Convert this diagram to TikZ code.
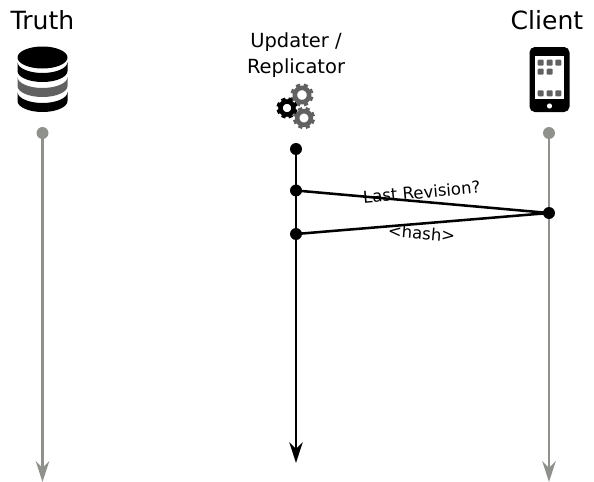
\documentclass[tikz,border=0pt]{standalone}
\usepackage{fontspec}
\setmainfont{DejaVu Sans}
\usetikzlibrary{arrows.meta}
\definecolor{lineGrey}{rgb}{0.56,0.57,0.55}
\definecolor{iconGrey}{rgb}{0.38,0.38,0.38}
\tikzset{
    dot/.style={circle,fill=#1,inner sep=0pt,minimum size=9pt},
    lifeline/.style={line width=#1,-{Stealth[length=15.5pt,width=10pt,inset=5pt]}},
    message/.style={line width=1.9pt,black},
    heading/.style={font=\fontsize{18.8}{22}\selectfont,inner sep=0pt},
    msglabel/.style={font=\fontsize{12.4}{15}\selectfont,inner sep=1.5pt},
}
\newcommand{\gearicon}[4]{%
    \draw [#4,line width=3.4pt] (#1,#2) circle [radius=#3*0.62];
    \foreach \a in {0,45,...,315} {
        \draw [#4,line width=3.2pt] (#1,#2) ++(\a+22:#3*0.7) -- ++(\a+22:#3*0.3);
    }
}
\newcommand{\dbband}[2]{%
    \fill [#2] (17.5,#1) arc [start angle=180,end angle=0,x radius=25,y radius=11] -- ++(0,9) arc [start angle=0,end angle=180,x radius=25,y radius=11] -- cycle;
}
\begin{document}
\begin{tikzpicture}[x=0.75pt,y=0.75pt,yscale=-1,xscale=1]
    \useasboundingbox (0,0) rectangle (594,482);

    % headings
    \node [heading] (truth) at (42.5,20) {Truth};
    \node [heading] (client) at (547,20) {Client};
    \node [font=\fontsize{14.6}{20}\selectfont,align=center,inner sep=0pt] (updater) at (296,55) {Updater /\\Replicator};

    % database
    \fill [black] (42.5,57.5) ellipse [x radius=25,y radius=11];
    \dbband{62}{black}
    \dbband{77}{iconGrey}
    \dbband{92}{black}

    % gears
    \gearicon{302}{95}{11.5}{iconGrey}
    \gearicon{304}{118}{11}{iconGrey}
    \gearicon{287}{108}{10.5}{black}

    % phone
    \fill [black,rounded corners=4] (529.5,47) rectangle (569.5,112);
    \fill [white] (535,56) rectangle (564,99);
    \fill [white] (549.5,106) circle [radius=2.6];
    \foreach \x/\y in {540.7/62.7,549.7/62.7,558.3/62.7,540.7/71.7,549.7/71.7,540.7/93.3,549.7/93.3,558.3/93.3} {
        \fill [iconGrey,rounded corners=0.7] (\x-3,\y-3) rectangle (\x+3,\y+3);
    }

    % lifelines
    \node [dot=lineGrey] (truthtop) at (42.5,133) {};
    \coordinate (truthend) at (42.5,482);
    \node [dot=lineGrey] (clienttop) at (549,133) {};
    \coordinate (clientend) at (549,482);
    \node [dot=black] (updatertop) at (296,149) {};
    \coordinate (updaterend) at (296,463);
    \draw [lifeline=2.2pt,lineGrey] (truthtop.center) -- (truthend);
    \draw [lifeline=2.2pt,lineGrey] (clienttop.center) -- (clientend);
    \draw [lifeline=1.9pt,black] (updatertop.center) -- (updaterend);

    % messages
    \node [dot=black] (ask) at (296,190.5) {};
    \node [dot=black] (reply) at (296,234) {};
    \node [dot=black] (answer) at (549,213) {};
    \draw [message] (ask.center) -- node [msglabel,midway,above,sloped] (asklabel) {Last Revision?} (answer.center);
    \draw [message] (answer.center) -- node [msglabel,midway,below,sloped] (replylabel) {<hash>} (reply.center);
\end{tikzpicture}
\end{document}
